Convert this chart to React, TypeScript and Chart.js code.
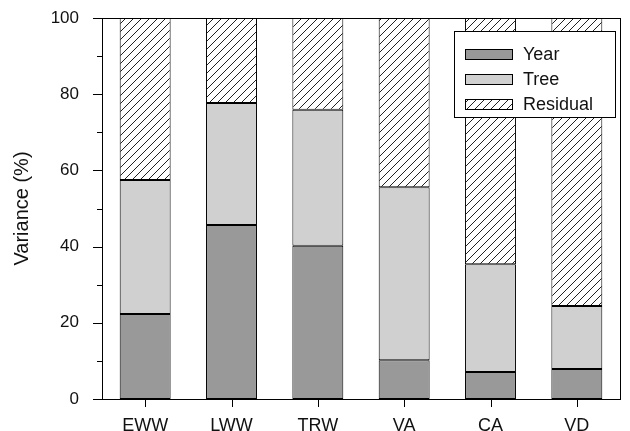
import React, { useEffect, useRef } from "react";
import { Chart, registerables } from "chart.js";

Chart.register(...registerables);

const categories = ["EWW", "LWW", "TRW", "VA", "CA", "VD"];
const yearValues = [22.3, 45.7, 40.2, 10.2, 7.1, 7.9];
const treeValues = [35.2, 32.0, 35.7, 45.4, 28.3, 16.5];
const residualValues = [42.5, 22.3, 24.1, 44.4, 64.6, 75.6];
const seriesLabels = ["Year", "Tree", "Residual"];
const yTicks = [0, 20, 40, 60, 80, 100];
const yMinorTicks = [10, 30, 50, 70, 90];

const FONT = "'Liberation Sans', Arial, Helvetica, sans-serif";

function makeHatch(): CanvasPattern | string {
  const c = document.createElement("canvas");
  c.width = 8;
  c.height = 8;
  const g = c.getContext("2d");
  if (!g) return "#fff";
  g.fillStyle = "#fff";
  g.fillRect(0, 0, 8, 8);
  g.strokeStyle = "#222";
  g.lineWidth = 1;
  g.beginPath();
  g.moveTo(0, 8);
  g.lineTo(8, 0);
  g.moveTo(-2, 2);
  g.lineTo(2, -2);
  g.moveTo(6, 10);
  g.lineTo(10, 6);
  g.stroke();
  const p = g.createPattern(c, "repeat");
  return p || "#fff";
}

export default function App() {
  const ref = useRef<HTMLCanvasElement | null>(null);

  useEffect(() => {
    document.body.style.margin = "0";
    const canvas = ref.current;
    if (!canvas) return;
    const hatch = makeHatch();
    const fills = ["#999999", "#d0d0d0", hatch];

    const decor = {
      id: "decor",
      afterDraw(chart: any) {
        const ctx = chart.ctx;
        const a = chart.chartArea;
        const ys = chart.scales.y;
        const xs = chart.scales.x;
        ctx.save();
        ctx.strokeStyle = "#000";
        ctx.lineWidth = 1;
        ctx.strokeRect(Math.round(a.left) + 0.5, Math.round(a.top) + 0.5, Math.round(a.right - a.left), Math.round(a.bottom - a.top));
        ctx.beginPath();
        yTicks.forEach((v) => {
          const y = Math.round(ys.getPixelForValue(v)) + 0.5;
          ctx.moveTo(a.left - 9, y);
          ctx.lineTo(a.left, y);
        });
        yMinorTicks.forEach((v) => {
          const y = Math.round(ys.getPixelForValue(v)) + 0.5;
          ctx.moveTo(a.left - 5, y);
          ctx.lineTo(a.left, y);
        });
        categories.forEach((_, i) => {
          const x = Math.round(xs.getPixelForValue(i)) + 0.5;
          ctx.moveTo(x, a.bottom);
          ctx.lineTo(x, a.bottom + 8);
        });
        ctx.stroke();

        // legend
        const lx = 454, ly = 31, lw = 161, lh = 86;
        ctx.fillStyle = "#fff";
        ctx.fillRect(lx, ly, lw, lh);
        ctx.strokeRect(lx + 0.5, ly + 0.5, lw, lh);
        const centers = [54, 79, 104];
        ctx.font = `18px ${FONT}`;
        ctx.textBaseline = "middle";
        seriesLabels.forEach((lab, i) => {
          const cy = centers[i];
          ctx.fillStyle = fills[i] as any;
          ctx.fillRect(465, cy - 5, 47, 10);
          ctx.strokeStyle = "#000";
          ctx.strokeRect(465.5, cy - 5 + 0.5, 47, 10);
          ctx.fillStyle = "#111";
          ctx.fillText(lab, 523, cy + 1);
        });
        ctx.restore();
      },
    };

    const chart = new Chart(canvas, {
      type: "bar",
      data: {
        labels: categories,
        datasets: [yearValues, treeValues, residualValues].map((d, i) => ({
          label: seriesLabels[i],
          data: d,
          backgroundColor: fills[i] as any,
          borderColor: "#000",
          borderWidth: 1,
          borderSkipped: false,
          categoryPercentage: 1,
          barPercentage: 0.59,
        })),
      },
      options: {
        animation: false,
        responsive: false,
        maintainAspectRatio: false,
        layout: { padding: { left: 0, top: 18, right: 10, bottom: 0 } },
        plugins: { legend: { display: false }, tooltip: { enabled: false } },
        scales: {
          x: {
            stacked: true,
            grid: { display: false },
            border: { display: false },
            ticks: { color: "#111", font: { size: 18, family: FONT }, padding: 8 },
            afterFit: (s: any) => {
              s.height = 32;
              s.paddingLeft = 0;
              s.paddingRight = 0;
            },
          },
          y: {
            stacked: true,
            min: 0,
            max: 100,
            grid: { display: false },
            border: { display: false },
            ticks: { stepSize: 20, color: "#111", font: { size: 17, family: FONT }, padding: 15 },
            title: {
              display: true,
              text: "Variance (%)",
              color: "#111",
              font: { size: 20, family: FONT },
              padding: { top: 10, bottom: 4 },
            },
            afterFit: (s: any) => {
              s.width = 102;
              s.paddingTop = 0;
              s.paddingBottom = 0;
            },
          },
        },
      },
      plugins: [decor],
    });
    return () => chart.destroy();
  }, []);

  return (
    <div style={{ position: "relative", width: 630, height: 431, background: "#fff" }}>
      <canvas ref={ref} width={630} height={431} style={{ display: "block" }} />
    </div>
  );
}
